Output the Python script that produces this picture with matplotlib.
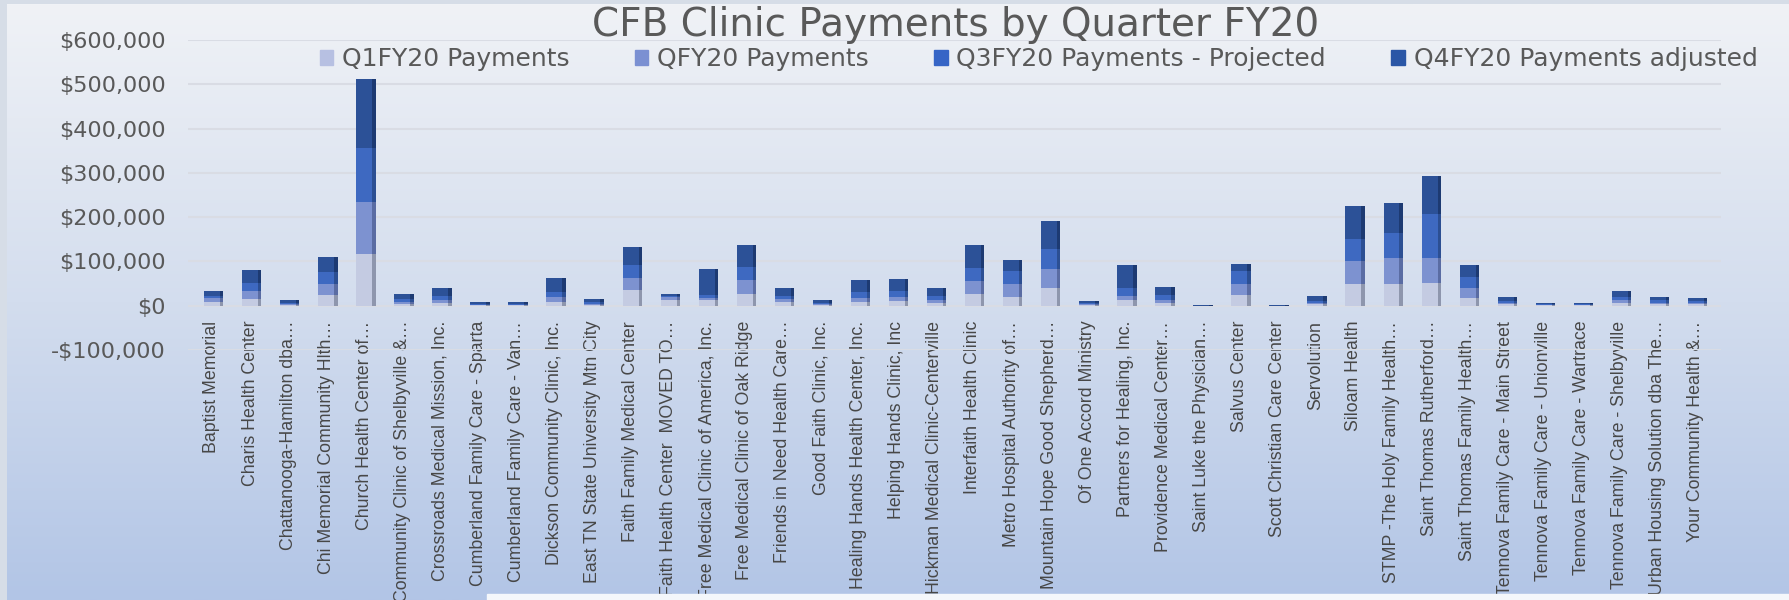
import matplotlib.pyplot as plt
import numpy as np
from matplotlib.colors import LinearSegmentedColormap
from matplotlib.patches import Patch, Rectangle
from matplotlib.ticker import FuncFormatter

# clinics along the x axis (truncated the way the source chart shows them)
clinics = [
    "Baptist Memorial",
    "Charis Health Center",
    "Chattanooga-Hamilton dba…",
    "Chi Memorial Community Hlth…",
    "Church Health Center of…",
    "Community Clinic of Shelbyville &…",
    "Crossroads Medical Mission, Inc.",
    "Cumberland Family Care - Sparta",
    "Cumberland Family Care - Van…",
    "Dickson Community Clinic, Inc.",
    "East TN State University Mtn City",
    "Faith Family Medical Center",
    "Faith Health Center  MOVED TO…",
    "Free Medical Clinic of America, Inc.",
    "Free Medical Clinic of Oak Ridge",
    "Friends in Need Health Care…",
    "Good Faith Clinic, Inc.",
    "Healing Hands Health Center, Inc.",
    "Helping Hands Clinic, Inc",
    "Hickman Medical Clinic-Centerville",
    "Interfaith Health Clinic",
    "Metro Hospital Authority of…",
    "Mountain Hope Good Shepherd…",
    "Of One Accord Ministry",
    "Partners for Healing, Inc.",
    "Providence Medical Center…",
    "Saint Luke the Physician…",
    "Salvus Center",
    "Scott Christian Care Center",
    "Servolution",
    "Siloam Health",
    "STMP -The Holy Family Health…",
    "Saint Thomas Rutherford…",
    "Saint Thomas Family Health…",
    "Tennova Family Care - Main Street",
    "Tennova Family Care - Unionville",
    "Tennova Family Care - Wartrace",
    "Tennova Family Care - Shelbyville",
    "Urban Housing Solution dba The…",
    "Your Community Health &…",
]

q1_payments = [9000, 16000, 2000, 24000, 116000, 4000, 7000, 1000, 1000, 9000,
               2000, 36000, 12000, 13000, 27000, 9000, 2000, 9000, 10000, 7000,
               27000, 20000, 41000, 1000, 12000, 7000, 0, 24000, 0, 3000,
               50000, 50000, 52000, 18000, 3000, 1000, 1000, 6000, 3000, 3000]
q2_payments = [9000, 18000, 2000, 26000, 119000, 5000, 7000, 1000, 1000, 11000,
               3000, 27000, 7000, 5000, 30000, 6000, 2000, 9000, 10000, 6000,
               29000, 29000, 43000, 2000, 10000, 7000, 0, 25000, 0, 3000,
               51000, 58000, 55000, 22000, 3000, 1000, 1000, 6000, 4000, 3000]
q3_payments = [5000, 18000, 3000, 27000, 121000, 6000, 9000, 2000, 2000, 11000,
               4000, 29000, 3000, 6000, 31000, 7000, 3000, 12000, 14000, 10000,
               30000, 29000, 44000, 3000, 18000, 11000, 0, 29000, 0, 5000,
               50000, 57000, 99000, 25000, 5000, 2000, 1000, 8000, 5000, 4000]
q4_payments = [11000, 29000, 5000, 32000, 156000, 12000, 17000, 5000, 4000, 32000,
               7000, 41000, 4000, 59000, 48000, 18000, 7000, 27000, 27000, 18000,
               52000, 25000, 64000, 5000, 52000, 18000, 2000, 16000, 1500, 10000,
               75000, 67000, 87000, 26000, 9000, 3000, 3000, 14000, 8000, 7000]

series_names = ["Q1FY20 Payments", "QFY20 Payments",
                "Q3FY20 Payments - Projected", "Q4FY20 Payments adjusted"]
front_colors = ["#c4cbe2", "#7d92d0", "#3e69c1", "#2c5197"]
side_colors = ["#8e96ad", "#5a6ca3", "#2c4f93", "#1d3a72"]
legend_colors = ["#b7c0e2", "#7b90d2", "#3665c6", "#2a56a6"]

text_grey = "#595959"

fig = plt.figure(figsize=(17.89, 6.0), dpi=100, facecolor="#d6dde7")

# gradient panel behind the chart
bg = fig.add_axes([7 / 1789, 0, 1 - 7 / 1789, 1 - 4 / 600], zorder=-2)
grad = np.linspace(0, 1, 256).reshape(-1, 1)
cmap = LinearSegmentedColormap.from_list("panel", ["#f0f2f6", "#d3ddee", "#b2c5e6"])
bg.imshow(grad, aspect="auto", cmap=cmap, extent=[0, 1, 0, 1], origin="upper")
bg.axis("off")

ax = fig.add_axes([188 / 1789, 1 - 350 / 600, (1721 - 188) / 1789, (350 - 40) / 600])
ax.patch.set_alpha(0)

x = np.arange(len(clinics))
bottom = np.zeros(len(clinics))
for vals, face, side in zip([q1_payments, q2_payments, q3_payments, q4_payments],
                            front_colors, side_colors):
    vals = np.array(vals, dtype=float)
    ax.bar(x, vals, width=0.42, bottom=bottom, color=face, zorder=3)
    ax.bar(x + 0.255, vals, width=0.09, bottom=bottom, color=side, zorder=3)
    bottom += vals

ax.set_xlim(-0.63, 39.66)
ax.set_ylim(-100000, 600000)
ax.set_yticks(np.arange(-100000, 600001, 100000))
ax.yaxis.set_major_formatter(FuncFormatter(
    lambda v, _: f"-${abs(v):,.0f}" if v < 0 else f"${v:,.0f}"))
ax.yaxis.grid(True, color="#d9dce4", lw=1.5)
ax.set_axisbelow(True)
for s in ax.spines.values():
    s.set_visible(False)

ax.set_xticks(x)
ax.set_xticklabels(clinics, rotation=90, fontsize=12.8, color="#474747",
                   family=["Liberation Sans Narrow", "Liberation Sans", "DejaVu Sans"])
ax.tick_params(axis="x", length=0, pad=-21)
ax.tick_params(axis="y", length=0, pad=16, labelsize=16, labelcolor=text_grey)

fig.text(956 / 1789, 1 - 25 / 600, "CFB Clinic Payments by Quarter FY20",
         ha="center", va="center", fontsize=28, color=text_grey)

handles = [Patch(color=c) for c in legend_colors]
ax.legend(handles, series_names, loc="center",
          bbox_to_anchor=((314 + 1763) / 2 / 1789, 1 - 59 / 600),
          bbox_transform=fig.transFigure, ncol=4, frameon=False, fontsize=18,
          handlelength=0.55, handleheight=0.55, handletextpad=0.35,
          columnspacing=2.6, labelcolor=text_grey)

# light strip along the lower right edge
fig.add_artist(Rectangle((487 / 1789, 0), 1, 6 / 600, transform=fig.transFigure,
                         color="#f4f7fb", zorder=5))

fig.savefig("out.png", dpi=100, facecolor=fig.get_facecolor())
